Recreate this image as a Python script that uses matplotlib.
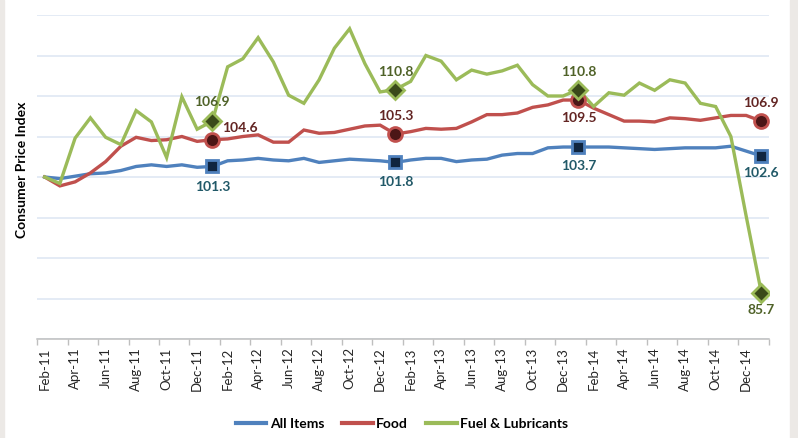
import numpy as np
import pandas as pd
import matplotlib
matplotlib.use("Agg")
import matplotlib.pyplot as plt
from matplotlib.patches import Rectangle

plt.rcParams['font.family'] = ['Lato', 'DejaVu Sans']

# monthly categories Feb-11 .. Jan-15
months = pd.date_range("2011-02-01", periods=48, freq="MS").strftime("%b-%y").tolist()

all_items = [100.0, 99.8, 100.1, 100.4, 100.5, 100.8, 101.3, 101.5, 101.3, 101.5, 101.2, 101.3,
             102.0, 102.1, 102.3, 102.1, 102.0, 102.3, 101.8, 102.0, 102.2, 102.1, 102.0, 101.8,
             102.1, 102.3, 102.3, 101.9, 102.1, 102.2, 102.7, 102.9, 102.9, 103.6, 103.7, 103.7,
             103.7, 103.7, 103.6, 103.5, 103.4, 103.5, 103.6, 103.6, 103.6, 103.8, 103.2, 102.6]
food = [100.0, 98.9, 99.4, 100.5, 101.9, 103.8, 104.9, 104.5, 104.6, 105.0, 104.4, 104.6,
        104.7, 105.0, 105.2, 104.3, 104.3, 105.8, 105.4, 105.5, 105.9, 106.3, 106.4, 105.3,
        105.6, 106.0, 105.9, 106.0, 106.8, 107.7, 107.7, 107.9, 108.6, 108.9, 109.5, 109.5,
        108.5, 107.7, 106.9, 106.9, 106.8, 107.3, 107.2, 107.0, 107.3, 107.6, 107.6, 106.9]
fuel = [100.0, 99.2, 104.8, 107.3, 104.9, 104.0, 108.2, 106.8, 102.4, 109.9, 105.9, 106.9,
        113.6, 114.6, 117.2, 114.2, 110.1, 109.1, 112.0, 115.9, 118.3, 114.0, 110.5, 110.8,
        111.8, 115.0, 114.3, 112.0, 113.2, 112.7, 113.1, 113.8, 111.4, 110.0, 110.0, 110.8,
        108.7, 110.4, 110.1, 111.6, 110.7, 112.0, 111.6, 109.1, 108.7, 105.0, 95.2, 85.7]

# January points that carry markers and labels
marked = [11, 23, 35, 47]

fig = plt.figure(figsize=(7.98, 4.38), dpi=100)
ax = fig.add_axes([37/798, 1 - 339/438, (769 - 37)/798, (339 - 15)/438])

x = np.arange(len(months))
series = [
    ("All Items", all_items, "#4F81BD", "s", "#10253F", "#215968", 9),
    ("Food", food, "#C0504D", "o", "#4B1616", "#632523", 10),
    ("Fuel & Lubricants", fuel, "#9BBB59", "D", "#3A4A1A", "#4F6228", 9),
]
for name, vals, col, mk, fill, tcol, ms in series:
    ax.plot(x, vals, color=col, lw=2.4, label=name, solid_joinstyle="miter", zorder=3)
    ax.plot([x[i] for i in marked], [vals[i] for i in marked], ls="none", marker=mk,
            ms=ms, mfc=fill, mec=col, mew=2.0, zorder=4)

# data labels: (series values, index, dx px, dy px, ha, colour)
labels = [
    (all_items, 11, 0, -21, "center", "#215968"),
    (all_items, 23, 0, -20, "center", "#215968"),
    (all_items, 35, 0, -19, "center", "#215968"),
    (all_items, 47, 0, -17, "center", "#215968"),
    (food, 11, 10, 12, "left", "#632523"),
    (food, 23, 0, 18, "center", "#632523"),
    (food, 35, 0, -18, "center", "#632523"),
    (food, 47, 0, 18, "center", "#632523"),
    (fuel, 11, 0, 19, "center", "#4F6228"),
    (fuel, 23, 0, 18, "center", "#4F6228"),
    (fuel, 35, 0, 18, "center", "#4F6228"),
    (fuel, 47, 0, -17, "center", "#4F6228"),
]
for vals, i, dx, dy, ha, tc in labels:
    ax.annotate(f"{vals[i]:.1f}", (x[i], vals[i]), xytext=(dx, dy), textcoords="offset pixels",
                ha=ha, va="center", fontsize=10, fontweight="bold", color=tc, zorder=5)

ax.set_xlim(-0.5, 47.5)
ax.set_ylim(80, 120)
ax.set_yticks(np.arange(80, 121, 5))
ax.tick_params(axis="y", length=0, labelleft=False)
ax.grid(axis="y", color="#DCE6F2", lw=1.1)
ax.set_axisbelow(True)

ax.set_xticks(np.arange(-0.5, 48, 2))
ax.set_xticklabels([])
ax.set_xticks(x[::2], minor=True)
ax.set_xticklabels(months[::2], minor=True, rotation=90, fontsize=9.5, color="#262626")
ax.tick_params(axis="x", which="major", length=4, color="#BFBFBF", width=1)
ax.tick_params(axis="x", which="minor", length=0, pad=6)

for s in ["top", "right", "left"]:
    ax.spines[s].set_visible(False)
ax.spines["bottom"].set_color("#BFBFBF")
ax.spines["bottom"].set_linewidth(1.1)

fig.text(22/798, 1 - 170/438, "Consumer Price Index", rotation=90, ha="center", va="center",
         fontsize=10, fontweight="bold", color="#000000")

handles = [plt.Line2D([], [], color=c, lw=3) for _, _, c, *_ in series]
fig.legend(handles, [s[0] for s in series], loc="center", bbox_to_anchor=(402/798, 1 - 424/438),
           ncol=3, frameon=False, handlelength=2.2, handletextpad=0.25, columnspacing=1.3,
           prop={"weight": "bold", "size": 10})

# chart border slivers at the image edges
fig.patches.append(Rectangle((0, 0), 4/798, 1, transform=fig.transFigure, color="#ECE9E6", zorder=0))
fig.patches.append(Rectangle((790/798, 0), 8/798, 1, transform=fig.transFigure, color="#ECE9E6", zorder=0))

fig.savefig("out.png", dpi=100)
